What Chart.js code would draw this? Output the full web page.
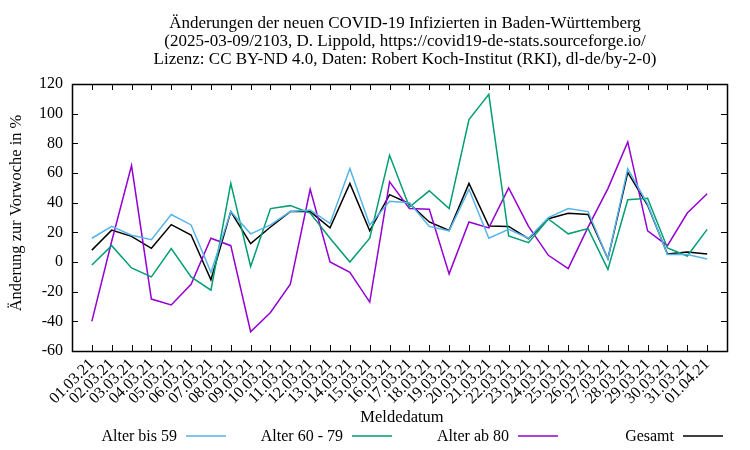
<!DOCTYPE html>
<html>
<head>
<meta charset="utf-8">
<script src="https://cdn.jsdelivr.net/npm/chart.js@4/dist/chart.umd.min.js"></script>
<style>
  html, body { margin: 0; padding: 0; background: #fff; }
  canvas { display: block; }
</style>
</head>
<body>
<canvas id="chart" width="750" height="450"></canvas>
<script>
const dates = [
  '01.03.21','02.03.21','03.03.21','04.03.21','05.03.21','06.03.21','07.03.21','08.03.21',
  '09.03.21','10.03.21','11.03.21','12.03.21','13.03.21','14.03.21','15.03.21','16.03.21',
  '17.03.21','18.03.21','19.03.21','20.03.21','21.03.21','22.03.21','23.03.21','24.03.21',
  '25.03.21','26.03.21','27.03.21','28.03.21','29.03.21','30.03.21','31.03.21','01.04.21'
]
const alterBis59 = [16, 24, 18, 15, 32, 25, -7, 34, 19, 25, 34, 35, 26, 63, 25, 41,
  40, 24, 21, 49, 16, 22, 16, 30, 36, 34, 2, 63, 39, 5, 5, 2]
const alter60bis79 = [-2, 11, -4, -10, 9, -10, -19, 53, -3, 36, 38, 33, 16, 0, 16, 72,
  37, 48, 36, 96, 113, 17.5, 13, 29, 19, 22.5, -5, 42, 43, 9.5, 4, 22]
const alterAb80 = [-40, 14, 65, -25, -29, -15, 16, 11, -47, -34, -15, 49, 0, -7, -27, 54,
  36, 35.5, -8, 27, 23, 50, 24, 4.5, -4.5, 23.5, 49.5, 81, 21, 11, 33, 46]
const gesamt = [8, 21.5, 17.3, 9.2, 25.2, 18.2, -12, 34, 12.4, 23.6, 34, 34, 23, 53, 21, 45.4,
  39.3, 27, 21.3, 53, 24.3, 24, 15.7, 29.2, 32.8, 32, 2.2, 60.4, 38.2, 5.4, 6.7, 5.4]
const yTicks = [-60, -40, -20, 0, 20, 40, 60, 80, 100, 120]

const titleLines = [
  'Änderungen der neuen COVID-19 Infizierten in Baden-Württemberg',
  '(2025-03-09/2103, D. Lippold, https://covid19-de-stats.sourceforge.io/',
  'Lizenz: CC BY-ND 4.0, Daten: Robert Koch-Institut (RKI), dl-de/by-2-0)'
]
const xTitle = 'Meldedatum'
const yTitle = 'Änderung zur Vorwoche in %'

const serif = "'Liberation Serif', 'DejaVu Serif', serif"
const font = { family: serif, size: 16, weight: 'normal' }

const toPoints = arr => arr.map((v, i) => ({ x: i, y: v }))

const series = [
  { label: 'Alter bis 59', data: alterBis59, color: '#56b4e9', legend: [177, 186, 226] },
  { label: 'Alter 60 - 79', data: alter60bis79, color: '#009e73', legend: [343, 352, 392] },
  { label: 'Alter ab 80', data: alterAb80, color: '#9400d3', legend: [509, 518, 558] },
  { label: 'Gesamt', data: gesamt, color: '#000000', legend: [674, 683, 723] }
]

// gnuplot-style frame, inward ticks, titles and legend with text before the line sample
const gnuplotFrame = {
  id: 'gnuplotFrame',
  afterDatasetsDraw(chart) {
    const { ctx, chartArea: a, scales } = chart
    ctx.save()
    ctx.strokeStyle = '#000'
    ctx.lineWidth = 1
    ctx.beginPath()
    dates.forEach((d, i) => {
      const x = Math.round(scales.x.getPixelForValue(i)) + 0.5
      ctx.moveTo(x, a.bottom); ctx.lineTo(x, a.bottom - 6)
      ctx.moveTo(x, a.top); ctx.lineTo(x, a.top + 6)
    })
    yTicks.forEach(v => {
      const y = Math.round(scales.y.getPixelForValue(v)) + 0.5
      ctx.moveTo(a.left, y); ctx.lineTo(a.left + 6, y)
      ctx.moveTo(a.right, y); ctx.lineTo(a.right - 6, y)
    })
    ctx.stroke()
    ctx.lineWidth = 1.5
    ctx.strokeRect(Math.round(a.left) + 0.5, Math.round(a.top) + 0.5,
      Math.round(a.right - a.left), Math.round(a.bottom - a.top))

    ctx.fillStyle = '#000'
    ctx.textBaseline = 'middle'

    // title
    ctx.font = `17px ${serif}`
    ctx.textAlign = 'center'
    titleLines.forEach((t, i) => ctx.fillText(t, 405, 24 + i * 17.6))

    // axis titles
    ctx.font = `16.5px ${serif}`
    ctx.fillText(xTitle, 402, 418)
    ctx.save()
    ctx.translate(17, 213)
    ctx.rotate(-Math.PI / 2)
    ctx.fillText(yTitle, 0, 0)
    ctx.restore()

    // legend
    ctx.font = `16px ${serif}`
    ctx.textAlign = 'right'
    const ly = 437
    series.forEach(s => {
      const [tx, x1, x2] = s.legend
      ctx.fillText(s.label, tx, ly)
      ctx.strokeStyle = s.color
      ctx.lineWidth = 1.5
      ctx.beginPath()
      ctx.moveTo(x1, ly - 1); ctx.lineTo(x2, ly - 1)
      ctx.stroke()
    })
    ctx.restore()
  }
}

new Chart(document.getElementById('chart'), {
  type: 'line',
  data: {
    datasets: series.map(s => ({
      label: s.label,
      data: toPoints(s.data),
      borderColor: s.color,
      backgroundColor: s.color,
      borderWidth: 1.5,
      pointRadius: 0,
      tension: 0,
      fill: false
    }))
  },
  options: {
    responsive: false,
    animation: false,
    layout: { padding: { left: 0, right: 23, top: 84, bottom: 22 } },
    plugins: {
      legend: { display: false },
      tooltip: { enabled: false },
      title: { display: false }
    },
    scales: {
      x: {
        type: 'linear',
        min: -1,
        max: 32,
        afterBuildTicks(scale) {
          scale.ticks = [-1, ...dates.map((d, i) => i), 32].map(v => ({ value: v }))
        },
        afterFit(scale) { scale.height = 77 },
        grid: { display: false, drawTicks: false },
        border: { display: false },
        ticks: {
          autoSkip: false,
          maxRotation: 45,
          minRotation: 45,
          padding: 4,
          color: '#000',
          font,
          callback: v => dates[v] ?? ''
        }
      },
      y: {
        min: -60,
        max: 120,
        afterBuildTicks(scale) {
          scale.ticks = yTicks.map(v => ({ value: v }))
        },
        afterFit(scale) { scale.width = 72 },
        grid: { display: false, drawTicks: false },
        border: { display: false },
        ticks: { padding: 9, color: '#000', font }
      }
    }
  },
  plugins: [gnuplotFrame]
})
</script>
</body>
</html>
